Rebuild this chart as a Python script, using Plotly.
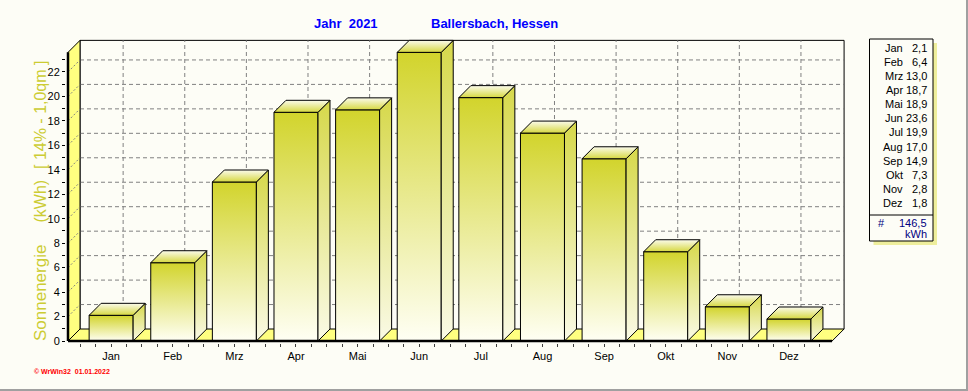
import plotly.graph_objects as go

# ---------------- data ----------------
months = ["Jan", "Feb", "Mrz", "Apr", "Mai", "Jun", "Jul", "Aug", "Sep", "Okt", "Nov", "Dez"]
values = [2.1, 6.4, 13.0, 18.7, 18.9, 23.6, 19.9, 17.0, 14.9, 7.3, 2.8, 1.8]
total_kwh = 146.5
y_ticks = list(range(0, 23, 2))
title_year = "Jahr  2021"
title_place = "Ballersbach, Hessen"
y_title_parts = ["Sonnenergie", "(kWh)", "[ 14% - 1,0qm ]"]
footer_text = "© WrWin32  01.01.2022"
unit_text = "kWh"

# ---------------- layout constants (pixels) ----------------
W, H = 968, 391
PX_LEFT, PX_RIGHT, PX_TOP, PX_BOTTOM = 66, 845, 39, 343
FRONT_X0_PX = 68
ZERO_PX = 341
PPU_X = 61.62
PPU_Y = 12.23
DEPTH_PX = 12
BAR_HALF_PX = 22

BG = "#FDFDF6"
WALL = "#FFFF80"
GRID = "#808080"
FRONT_TOP, FRONT_BOT = "#D2D42C", "#FFFFF4"
SIDE_TOP, SIDE_BOT = "#D6D84A", "#FAFAE6"
TOPF_FRONT, TOPF_BACK = "#D6D840", "#FBFBEC"

dx = DEPTH_PX / PPU_X
dy = DEPTH_PX / PPU_Y
xl = -0.7
xr = len(months) - 1 + 0.7
ymax = max(values)
bw = BAR_HALF_PX / PPU_X
x_range = [xl - (FRONT_X0_PX - PX_LEFT) / PPU_X, xl + (PX_RIGHT - FRONT_X0_PX) / PPU_X]
y_range = [-(PX_BOTTOM - ZERO_PX) / PPU_Y, (ZERO_PX - PX_TOP) / PPU_Y]

fig = go.Figure()


def poly(xs, ys, fillcolor=None, gradient=None, color="black", width=1, dash=None, close=True):
    if close:
        xs = list(xs) + [xs[0]]
        ys = list(ys) + [ys[0]]
    kw = dict(x=xs, y=ys, mode="lines", hoverinfo="skip", showlegend=False,
              line=dict(color=color, width=width, dash=dash))
    if gradient is not None:
        kw["fill"] = "toself"
        kw["fillgradient"] = dict(type="vertical", colorscale=gradient)
    elif fillcolor is not None:
        kw["fill"] = "toself"
        kw["fillcolor"] = fillcolor
    fig.add_trace(go.Scatter(**kw))


def segs(pairs, color, width=1, dash=None):
    xs, ys = [], []
    for (x0, y0, x1, y1) in pairs:
        xs += [x0, x1, None]
        ys += [y0, y1, None]
    fig.add_trace(go.Scatter(x=xs, y=ys, mode="lines", hoverinfo="skip", showlegend=False,
                             line=dict(color=color, width=width, dash=dash)))


# back wall edges
poly([xl + dx, xl + dx, xr + dx, xr + dx], [dy, ymax + dy, ymax + dy, dy], close=False)

# grid on back wall
segs([(xl + dx, g + dy, xr + dx, g + dy) for g in y_ticks[1:]], GRID, 1, "4px,3px")
segs([(i + dx, dy, i + dx, ymax + dy) for i in range(len(months))], GRID, 1, "4px,3px")

# left wall
poly([xl, xl, xl + dx, xl + dx], [0, ymax, ymax + dy, dy], fillcolor=WALL)
segs([(xl, g, xl + dx, g + dy) for g in y_ticks[1:]], GRID, 1, "2px,2px")

# floor
poly([xl, xr, xr + dx, xl + dx], [0, 0, dy, dy], fillcolor=WALL)

# bars
for i, v in enumerate(values):
    x0, x1 = i - bw, i + bw
    poly([x0, x1, x1, x0], [0, 0, v, v], gradient=[[0, FRONT_BOT], [1, FRONT_TOP]])
    poly([x1, x1 + dx, x1 + dx, x1], [0, dy, v + dy, v], gradient=[[0, SIDE_BOT], [1, SIDE_TOP]])
    poly([x0, x1, x1 + dx, x0 + dx], [v, v, v + dy, v + dy], gradient=[[0, TOPF_FRONT], [1, TOPF_BACK]])

# thick front edges
segs([(xl, 0, xl, ymax), (xl, 0, xr, 0)], "black", 2.5)

minor_x = [i * 0.25 - 0.5 for i in range(4 * len(months) + 1) if (i * 0.25 - 0.5) % 1 != 0]
minor_y = [k for k in range(1, int(ymax) + 1) if k % 2 == 1]

fig.update_layout(
    width=W, height=H,
    margin=dict(l=PX_LEFT, r=W - PX_RIGHT, t=PX_TOP, b=H - PX_BOTTOM, pad=0),
    paper_bgcolor=BG, plot_bgcolor=BG,
    font=dict(family="Arial", size=11, color="black"),
    xaxis=dict(range=x_range, showgrid=False, zeroline=False, showline=False,
               tickvals=list(range(len(months))), ticktext=months,
               ticks="outside", ticklen=3, tickcolor="#404040", tickwidth=1,
               minor=dict(tickvals=minor_x, ticks="outside", ticklen=3, tickcolor="#404040"),
               tickfont=dict(size=11, family="Arial", color="black"), fixedrange=True),
    yaxis=dict(range=y_range, showgrid=False, zeroline=False, showline=False,
               tickvals=y_ticks, ticks="outside", ticklen=3, tickcolor="black",
               minor=dict(tickvals=minor_y, ticks="outside", ticklen=3, tickcolor="black"),
               tickfont=dict(size=11, family="Arial", color="black"), fixedrange=True),
)


def px_x(px):
    return (px - PX_LEFT) / (PX_RIGHT - PX_LEFT)


def px_y(py):
    return (PX_BOTTOM - py) / (PX_BOTTOM - PX_TOP)


def ann(text, px, py, size=11, color="black", xanchor="center", bold=False, angle=0, family="Arial"):
    t = f"<b>{text}</b>" if bold else text
    fig.add_annotation(text=t, x=px_x(px), y=px_y(py), xref="paper", yref="paper",
                       xanchor=xanchor, yanchor="middle", showarrow=False, textangle=angle,
                       borderpad=0, font=dict(size=size, color=color, family=family))


# titles
ann(title_year, 313, 24, size=13, color="#0000FF", xanchor="left", bold=True)
ann(title_place, 430, 24, size=13, color="#0000FF", xanchor="left", bold=True)

# y axis title
ycol = "#CCCC33"
ann(y_title_parts[0], 40, 293, size=17, color=ycol, angle=-90)
ann(y_title_parts[1], 40, 201.5, size=16, color=ycol, angle=-90)
ann(y_title_parts[2], 40, 115, size=16, color=ycol, angle=-90)

# footer
ann(footer_text, 33, 371.5, size=7, color="#FF0000", xanchor="left", bold=True)

# legend box
BOX_X0, BOX_X1, BOX_Y0, BOX_Y1, SEP_Y = 869.5, 933, 39, 241, 215
SH = 4
fig.add_shape(type="rect", xref="paper", yref="paper",
              x0=px_x(BOX_X1), x1=px_x(BOX_X1 + SH), y0=px_y(BOX_Y1 + SH), y1=px_y(BOX_Y0 + SH),
              fillcolor="#EEEE9C", line=dict(width=0), layer="below")
fig.add_shape(type="rect", xref="paper", yref="paper",
              x0=px_x(BOX_X0 + SH), x1=px_x(BOX_X1 + SH), y0=px_y(BOX_Y1 + SH), y1=px_y(BOX_Y1),
              fillcolor="#EEEE9C", line=dict(width=0), layer="below")
fig.add_shape(type="rect", xref="paper", yref="paper",
              x0=px_x(BOX_X0), x1=px_x(BOX_X1), y0=px_y(BOX_Y1), y1=px_y(BOX_Y0),
              fillcolor=BG, line=dict(color="black", width=1))
fig.add_shape(type="line", xref="paper", yref="paper",
              x0=px_x(BOX_X0), x1=px_x(BOX_X1), y0=px_y(SEP_Y), y1=px_y(SEP_Y),
              line=dict(color="black", width=1))

ROW0, ROWSTEP = 48.3, 14.03
for i, (m, v) in enumerate(zip(months, values)):
    yy = ROW0 + i * ROWSTEP
    ann(m, 904, yy, size=11, xanchor="right")
    ann(f"{v:.1f}".replace(".", ","), 928, yy, size=11, xanchor="right")

ann("#", 877, 222.7, size=11, color="#000080", xanchor="left")
ann(f"{total_kwh:.1f}".replace(".", ","), 928, 222.7, size=11, color="#000080", xanchor="right")
ann(unit_text, 928, 234, size=11, color="#000080", xanchor="right")

# outer frame (right / bottom)
fig.add_shape(type="line", xref="paper", yref="paper",
              x0=px_x(W - 1), x1=px_x(W - 1), y0=px_y(H), y1=px_y(0),
              line=dict(color="#A0A0A0", width=2))
fig.add_shape(type="line", xref="paper", yref="paper",
              x0=px_x(0), x1=px_x(W), y0=px_y(H - 1), y1=px_y(H - 1),
              line=dict(color="#A0A0A0", width=2))

fig.write_html(
    "out.html",
    config={"displayModeBar": False},
    post_script="document.body.style.margin='0';document.body.style.overflow='hidden';",
)
